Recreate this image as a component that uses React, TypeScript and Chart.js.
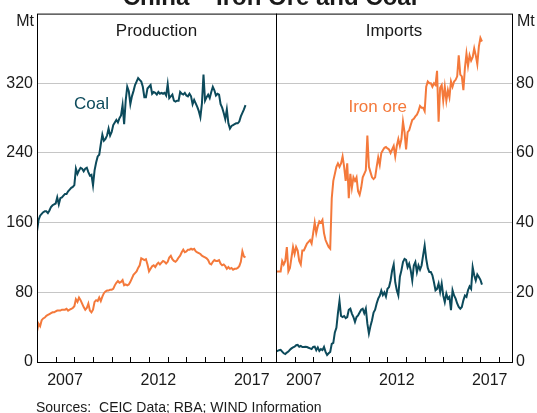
import React, { useEffect, useRef } from 'react';
import { Chart, registerables } from 'chart.js';

Chart.register(...registerables);

// Monthly data, first point January 2006
const startYear = 2006;

// Production, Mt (left panel)
const coalProduction = [
  150, 163, 168, 170, 172, 173, 173, 171, 174, 178,
  180, 181, 182, 189, 181, 188, 189, 191, 193, 193,
  196, 198, 200, 201, 203, 222, 216, 220, 223, 222,
  219, 222, 223, 218, 214, 215, 203, 220, 229, 236,
  238, 250, 261, 254, 256, 260, 268, 260, 264, 272,
  275, 278, 275, 280, 283, 295, 273, 300, 316, 311,
  296, 305, 311, 318, 322, 326, 324, 322, 316, 304,
  304, 314, 316, 318, 308, 310, 309, 307, 310, 308,
  309, 308, 309, 306, 319, 303, 305, 307, 300, 299,
  300, 300, 310, 308, 307, 309, 306, 305, 308, 305,
  296, 301, 297, 293, 288, 281, 297, 330, 300, 304,
  307, 303, 310, 316, 312, 306, 308, 307, 296, 292,
  286, 279, 290, 274, 268, 271, 272, 273, 274, 274,
  276, 282, 286, 290, 295,
];

const ironOreProduction = [
  35, 44, 41, 48, 50, 51, 53, 54, 55, 56,
  57, 57, 58, 59, 59, 59, 60, 60, 60, 61,
  59, 60, 61, 62, 64, 72, 69, 74, 71, 67,
  63, 60, 62, 67, 59, 57, 60, 69, 71, 70,
  74, 70, 75, 79, 81, 82, 82, 83, 83, 84,
  88, 91, 93, 91, 92, 94, 88, 89, 88, 89,
  92, 96, 100, 102, 104, 108, 111, 119, 118, 117,
  118, 112, 104, 107, 110, 111, 109, 112, 114, 112,
  114, 116, 115, 113, 115, 120, 122, 118, 116, 115,
  117, 120, 122, 126, 129, 126, 127, 129, 129, 130,
  129, 130, 127, 126, 125, 124, 122, 121, 120, 119,
  117, 113, 112, 115, 117, 116, 116, 117, 113, 111,
  112, 110, 107, 109, 107, 108, 106, 107, 107, 108,
  110, 115, 127, 121, 120,
];

// Imports, Mt (right panel)
const ironOreImports = [
  26, 26, 26, 26, 29, 28, 29, 33, 26, 27,
  30, 33, 31, 33, 32, 29, 28, 32, 32, 33,
  34, 34.5, 35, 34, 37, 40, 37, 39, 40.4, 40,
  40.8, 37, 35, 34, 33, 32.5, 47, 52, 54, 56,
  57, 56, 57, 59, 56, 52, 57, 47, 54, 50,
  53, 52, 53, 49, 48, 50, 53, 54, 55, 65,
  56, 54.5, 53, 52.5, 53, 56, 58.7, 56.6, 60, 60.8,
  61.5, 61.7, 61.3, 61, 60, 61, 62, 59, 62, 64,
  62, 64, 69, 66, 61, 66, 66.5, 68, 69.5, 69.8,
  70.5, 71, 72, 73.5, 73, 73, 72, 79, 80.5, 80,
  80, 79, 80, 79.5, 83.6, 69, 78.7, 79.5, 75, 79,
  75, 78, 76, 80.5, 79, 80.5, 81, 82, 88, 82.5,
  82, 78, 84.4, 88.5, 85, 88, 86.5, 87.5, 90, 88,
  85.5, 90.5, 93, 92,
];

const coalImports = [
  3.0, 3.2, 3.4, 3.5, 3.0, 2.5, 2.3, 2.7, 3.0, 3.5,
  3.9, 4.2, 4.4, 4.8, 4.9, 4.4, 4.6, 4.3, 4.3, 4.4,
  4.3, 4.1, 3.9, 3.7, 4.3, 4.4, 3.4, 4.2, 3.2, 3.7,
  3.4, 4.3, 2.9, 2.0, 2.5, 2.9, 5.2, 5.5, 8.5, 9.8,
  14, 17.5, 13.2, 12.9, 13.2, 12.6, 12.9, 15, 15.3, 13.9,
  12.9, 11.5, 12.9, 13.4, 14.2, 15, 15.3, 14, 15.3, 11,
  8.2, 10.3, 12, 14.2, 15, 16.8, 18.2, 19, 20.5, 19.2,
  20, 18.8, 21, 21.5, 23.4, 26.3, 28, 22.9, 20.6, 19.1,
  24.5, 26.3, 28.7, 29.6, 29.3, 27.2, 28.2, 26.3, 23.4, 27.7,
  28.7, 25.8, 27.7, 26.5, 27.7, 30.6, 33.4, 29.6, 27, 25.8,
  25.8, 24.9, 22.9, 20.6, 21, 22.5, 20.1, 22.5, 19.1, 17.2,
  19.6, 18.2, 18.7, 14.9, 20.6, 19.1, 18.2, 16.8, 15.8, 15.3,
  15.8, 17.7, 19.1, 18.7, 20.6, 21.7, 21, 27.2, 24.9, 23.4,
  25.1, 24.4, 23.6, 22.2,
];

const productionTicks = [0, 80, 160, 240, 320];
const importTicks = [0, 20, 40, 60, 80];
const yearLabels = [2007, 2012, 2017];
const yearMarks = [2007, 2008, 2009, 2010, 2011, 2012, 2013, 2014, 2015, 2016, 2017, 2018];

const TEAL = '#0c4a5b';
const ORANGE = '#f4793b';
const TEXT = '#1a1a1a';
const GRID = '#c6c6c6';
const FONT = '"Liberation Sans", Arial, Helvetica, sans-serif';

const W = 537;
const H = 413;

type Label = { text: string; x: number; y: number; color: string };

function toPoints(values: number[]) {
  return values.map((v, i) => ({ x: startYear + i / 12, y: v }));
}

function makePanel(
  canvas: HTMLCanvasElement,
  side: 'left' | 'right',
  series: { data: number[]; color: string }[],
  yMax: number,
  yTicks: number[],
  xMax: number,
  title: string,
  labels: Label[],
) {
  const isLeft = side === 'left';
  const panelPlugin = {
    id: 'panel-' + side,
    afterDatasetsDraw(chart: any) {
      const { ctx, chartArea: a, scales } = chart;
      ctx.save();
      // frame
      ctx.strokeStyle = '#000';
      ctx.lineWidth = 1;
      ctx.strokeRect(a.left + 0.5, a.top + 0.5, a.right - a.left, a.bottom - a.top);
      // inward year tick marks
      ctx.beginPath();
      for (const yr of yearMarks) {
        const px = Math.round(scales.x.getPixelForValue(yr)) + 0.5;
        if (px <= a.left + 1 || px >= a.right - 1) continue;
        ctx.moveTo(px, a.bottom);
        ctx.lineTo(px, a.bottom - 5);
      }
      ctx.stroke();

      // series labels
      ctx.textBaseline = 'alphabetic';
      ctx.textAlign = 'left';
      ctx.font = `17px ${FONT}`;
      for (const l of labels) {
        ctx.fillStyle = l.color;
        ctx.fillText(l.text, scales.x.getPixelForValue(l.x), scales.y.getPixelForValue(l.y));
      }
      // panel title
      ctx.fillStyle = TEXT;
      ctx.textAlign = 'center';
      ctx.font = `17px ${FONT}`;
      ctx.fillText(title, (a.left + a.right) / 2, a.top + 22.5);
      // unit
      ctx.font = `16px ${FONT}`;
      if (isLeft) {
        ctx.textAlign = 'right';
        ctx.fillText('Mt', a.left - 3, 25.5);
        // chart title (cut off at the top as in the original)
        ctx.textAlign = 'center';
        ctx.font = `bold 24px ${FONT}`;
        ctx.fillText('China – Iron Ore and Coal', 270, 5);
        // sources
        ctx.textAlign = 'left';
        ctx.font = `14px ${FONT}`;
        ctx.fillText('Sources:  CEIC Data; RBA; WIND Information', 36, 412);
      } else {
        ctx.textAlign = 'left';
        ctx.fillText('Mt', a.right + 5, 25.5);
      }
      ctx.restore();
    },
  };

  return new Chart(canvas, {
    type: 'line',
    data: {
      datasets: series.map((s) => ({
        data: toPoints(s.data),
        borderColor: s.color,
        backgroundColor: s.color,
        borderWidth: 2,
        pointRadius: 0,
        tension: 0,
        fill: false,
      })),
    },
    options: {
      responsive: false,
      animation: false,
      devicePixelRatio: 1,
      events: [],
      layout: {
        padding: isLeft
          ? { top: 12, right: W - 276, left: 0, bottom: 0 }
          : { top: 12, right: 0, left: 276, bottom: 0 },
      },
      plugins: { legend: { display: false }, tooltip: { enabled: false }, title: { display: false } },
      scales: {
        x: {
          type: 'linear',
          min: startYear,
          max: xMax,
          bounds: 'data',
          grid: { display: false, drawTicks: false },
          border: { display: false },
          afterBuildTicks: (scale: any) => {
            scale.ticks = yearLabels.map((y) => ({ value: y + 0.5 }));
          },
          afterFit: (scale: any) => {
            scale.height = H - 362;
          },
          ticks: {
            autoSkip: false,
            maxRotation: 0,
            padding: 9,
            color: TEXT,
            font: { family: FONT, size: 16 },
            callback: (v: any) => String(Math.floor(Number(v))),
          },
        },
        y: {
          type: 'linear',
          position: side,
          min: 0,
          max: yMax,
          grid: { color: GRID, lineWidth: 1, drawTicks: false },
          border: { display: false },
          afterBuildTicks: (scale: any) => {
            scale.ticks = yTicks.map((v) => ({ value: v }));
          },
          afterFit: (scale: any) => {
            scale.width = isLeft ? 37 : W - 512;
          },
          ticks: {
            padding: 4,
            color: TEXT,
            font: { family: FONT, size: 16 },
          },
        },
      },
    },
    plugins: [panelPlugin],
  } as any);
}

export default function App() {
  const leftRef = useRef<HTMLCanvasElement>(null);
  const rightRef = useRef<HTMLCanvasElement>(null);

  useEffect(() => {
    const left = makePanel(
      leftRef.current!,
      'left',
      [
        { data: coalProduction, color: TEAL },
        { data: ironOreProduction, color: ORANGE },
      ],
      400,
      productionTicks,
      2018.8,
      'Production',
      [{ text: 'Coal', x: 2007.98, y: 290, color: TEAL }],
    );
    const right = makePanel(
      rightRef.current!,
      'right',
      [
        { data: ironOreImports, color: ORANGE },
        { data: coalImports, color: TEAL },
      ],
      100,
      importTicks,
      2018.7,
      'Imports',
      [{ text: 'Iron ore', x: 2009.9, y: 71.7, color: ORANGE }],
    );
    return () => {
      left.destroy();
      right.destroy();
    };
  }, []);

  const cs: React.CSSProperties = { position: 'absolute', left: 0, top: 0, width: W, height: H };
  return (
    <div style={{ position: 'absolute', left: 0, top: 0, width: W, height: H, background: '#fff' }}>
      <canvas ref={leftRef} width={W} height={H} style={cs} />
      <canvas ref={rightRef} width={W} height={H} style={cs} />
    </div>
  );
}
